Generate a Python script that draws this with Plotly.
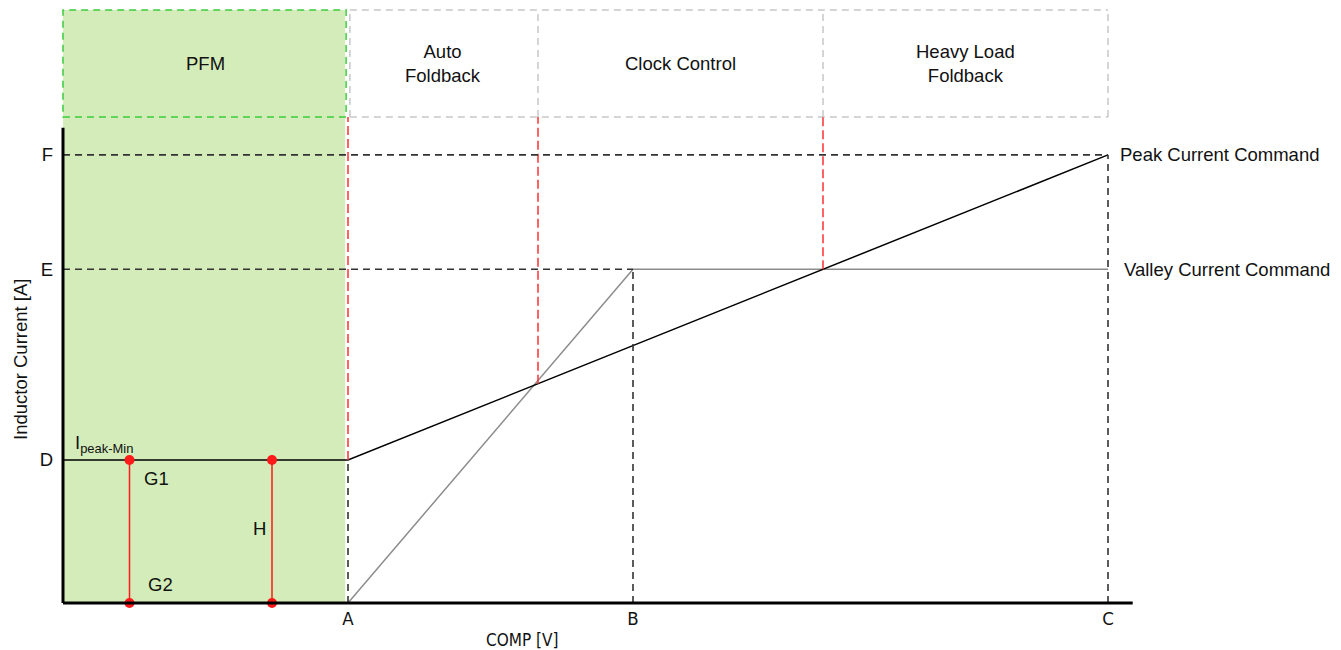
import numpy as np
import plotly.graph_objects as go

# ---- data ----
comp_tick_vals = [3, 6, 11]
comp_tick_text = ["A", "B", "C"]
cur_tick_vals = [3, 7, 9.4]
cur_tick_text = ["D", "E", "F"]

peak_x = [0, 3, 11]
peak_y = [3, 3, 9.4]
valley_x = [0, 3, 6, 11]
valley_y = [0, 0, 7, 7]

g_x = [0.7, 2.2]

region_edges = [0, 3, 5, 8, 11]
region_names = ["PFM", "Auto<br>Foldback", "Clock Control", "Heavy Load<br>Foldback"]

# ---- styling / layout constants ----
FONT = "Liberation Sans, Arial, sans-serif"
NARROW = "Liberation Sans Narrow, DejaVu Sans Condensed, Arial Narrow, sans-serif"
GREEN_FILL = "#d3ecba"
GREEN_LINE = "#3ccc3c"
GRAY_BOX = "#c8c8c8"
RED = "#ff3030"
DARK = "#333333"
BOX_TOP = 12.44
BOX_BOT = 10.195
DASH = "7px,5px"
RDASH = "9px,4px"
FS = 18.5
XPX = 95.0      # px per x unit
YPX = 47.67     # px per y unit
W, H = 1333, 642
ML, MB = 49, 42
PW, PH = W - ML, H - MB
OFF = 8  # page body margin


def paper_x(px):
    return (px - OFF - ML) / PW


def paper_y(py):
    return 1 - (py - OFF) / PH


A, B, C = comp_tick_vals
D, E, F = cur_tick_vals

fig = go.Figure()
shapes = []

# green PFM region fill
shapes.append(dict(type="rect", xref="x", yref="y", x0=region_edges[0], x1=region_edges[1] - 0.03,
                   y0=0, y1=BOX_TOP, fillcolor=GREEN_FILL, line=dict(width=0), layer="below"))

# PFM header box (green dashed)
shapes.append(dict(type="rect", xref="x", yref="y", x0=region_edges[0], x1=region_edges[1] - 0.02,
                   y0=BOX_BOT, y1=BOX_TOP,
                   line=dict(color=GREEN_LINE, width=1.5, dash=DASH), fillcolor="rgba(0,0,0,0)"))

# gray header boxes (drawn as individual edges so shared edges stay dashed)
gbox = dict(color=GRAY_BOX, width=1.5, dash=DASH)
gx0 = region_edges[1] + 0.02
for yy in (BOX_TOP, BOX_BOT):
    shapes.append(dict(type="line", xref="x", yref="y", x0=gx0, x1=region_edges[-1], y0=yy, y1=yy, line=gbox))
for xe in [gx0] + region_edges[2:]:
    shapes.append(dict(type="line", xref="x", yref="y", x0=xe, x1=xe, y0=BOX_BOT, y1=BOX_TOP, line=gbox))

# red boundary lines from header down to the peak command
for xe in region_edges[1:4]:
    yb = float(np.interp(xe, peak_x, peak_y))
    shapes.append(dict(type="line", xref="x", yref="y", x0=xe, x1=xe, y0=yb, y1=BOX_BOT,
                       line=dict(color=RED, width=1.5, dash=RDASH)))

# black dashed guide lines
guide = dict(color=DARK, width=1.6, dash=DASH)
shapes.append(dict(type="line", xref="x", yref="y", x0=0, x1=C, y0=F, y1=F, line=guide))
shapes.append(dict(type="line", xref="x", yref="y", x0=0, x1=B, y0=E, y1=E, line=guide))
shapes.append(dict(type="line", xref="x", yref="y", x0=A, x1=A, y0=0, y1=D, line=guide))
shapes.append(dict(type="line", xref="x", yref="y", x0=B, x1=B, y0=0, y1=E, line=guide))
shapes.append(dict(type="line", xref="x", yref="y", x0=C, x1=C, y0=0, y1=F, line=guide))

# axes lines
shapes.append(dict(type="line", xref="x", yref="y", x0=0, x1=11.26, y0=0, y1=0,
                   line=dict(color="black", width=3)))
shapes.append(dict(type="line", xref="x", yref="y", x0=0, x1=0, y0=0, y1=9.97,
                   line=dict(color="black", width=3)))

# traces
fig.add_trace(go.Scatter(x=valley_x, y=valley_y, mode="lines",
                         line=dict(color="#8c8c8c", width=1.5), hoverinfo="skip"))
fig.add_trace(go.Scatter(x=peak_x, y=peak_y, mode="lines",
                         line=dict(color="black", width=1.5), hoverinfo="skip"))
for gx in g_x:
    fig.add_trace(go.Scatter(x=[gx, gx], y=[0, D], mode="lines+markers",
                             line=dict(color="#ff1a1a", width=1.5),
                             marker=dict(color="#ff1a1a", size=10), hoverinfo="skip"))

annotations = []
for i, name in enumerate(region_names):
    annotations.append(dict(x=(region_edges[i] + region_edges[i + 1]) / 2, y=(BOX_TOP + BOX_BOT) / 2,
                            xref="x", yref="y", text=name, showarrow=False,
                            font=dict(size=FS, color="#111", family=FONT)))

annotations += [
    dict(x=11.105, y=F, text="Peak Current Command", xanchor="left"),
    dict(x=11.147, y=E, text="Valley Current Command", xanchor="left"),
    dict(x=0.11, y=3.05, text="I<sub>peak-Min</sub>", xanchor="left", yanchor="bottom"),
    dict(x=0.98, y=2.62, text="G1"),
    dict(x=1.03, y=0.38, text="G2"),
    dict(x=2.07, y=1.57, text="H"),
    # axis titles (paper coordinates, placed as in the reference)
    dict(x=paper_x(522), y=paper_y(640), xref="paper", yref="paper", text="COMP [V]",
         xanchor="center", yanchor="middle",
         font=dict(size=17, color="#111", family=NARROW)),
    dict(x=paper_x(20), y=paper_y(360), xref="paper", yref="paper", text="Inductor Current [A]",
         xanchor="center", yanchor="middle",
         textangle=-90, font=dict(size=FS, color="#111", family=FONT)),
]
for a in annotations[4:]:
    a.setdefault("xref", "x")
    a.setdefault("yref", "y")
    a["showarrow"] = False
    a.setdefault("font", dict(size=FS, color="#111", family=FONT))

x0r = -6 / XPX
y0r = -5 / YPX
fig.update_layout(
    width=W, height=H,
    margin=dict(l=ML, r=0, t=0, b=MB, autoexpand=False),
    paper_bgcolor="white", plot_bgcolor="white",
    showlegend=False,
    shapes=shapes,
    annotations=annotations,
    xaxis=dict(range=[x0r, x0r + PW / XPX], tickvals=comp_tick_vals, ticktext=comp_tick_text,
               automargin=False,
               showgrid=False, zeroline=False, showline=False, ticks="", ticklabelstandoff=-3,
               tickfont=dict(size=FS, color="#111", family=NARROW)),
    yaxis=dict(range=[y0r, y0r + PH / YPX], tickvals=cur_tick_vals, ticktext=cur_tick_text,
               automargin=False,
               showgrid=False, zeroline=False, showline=False, ticks="", ticklabelstandoff=3,
               tickfont=dict(size=FS, color="#111", family=FONT)),
)

fig.write_html("out.html")
